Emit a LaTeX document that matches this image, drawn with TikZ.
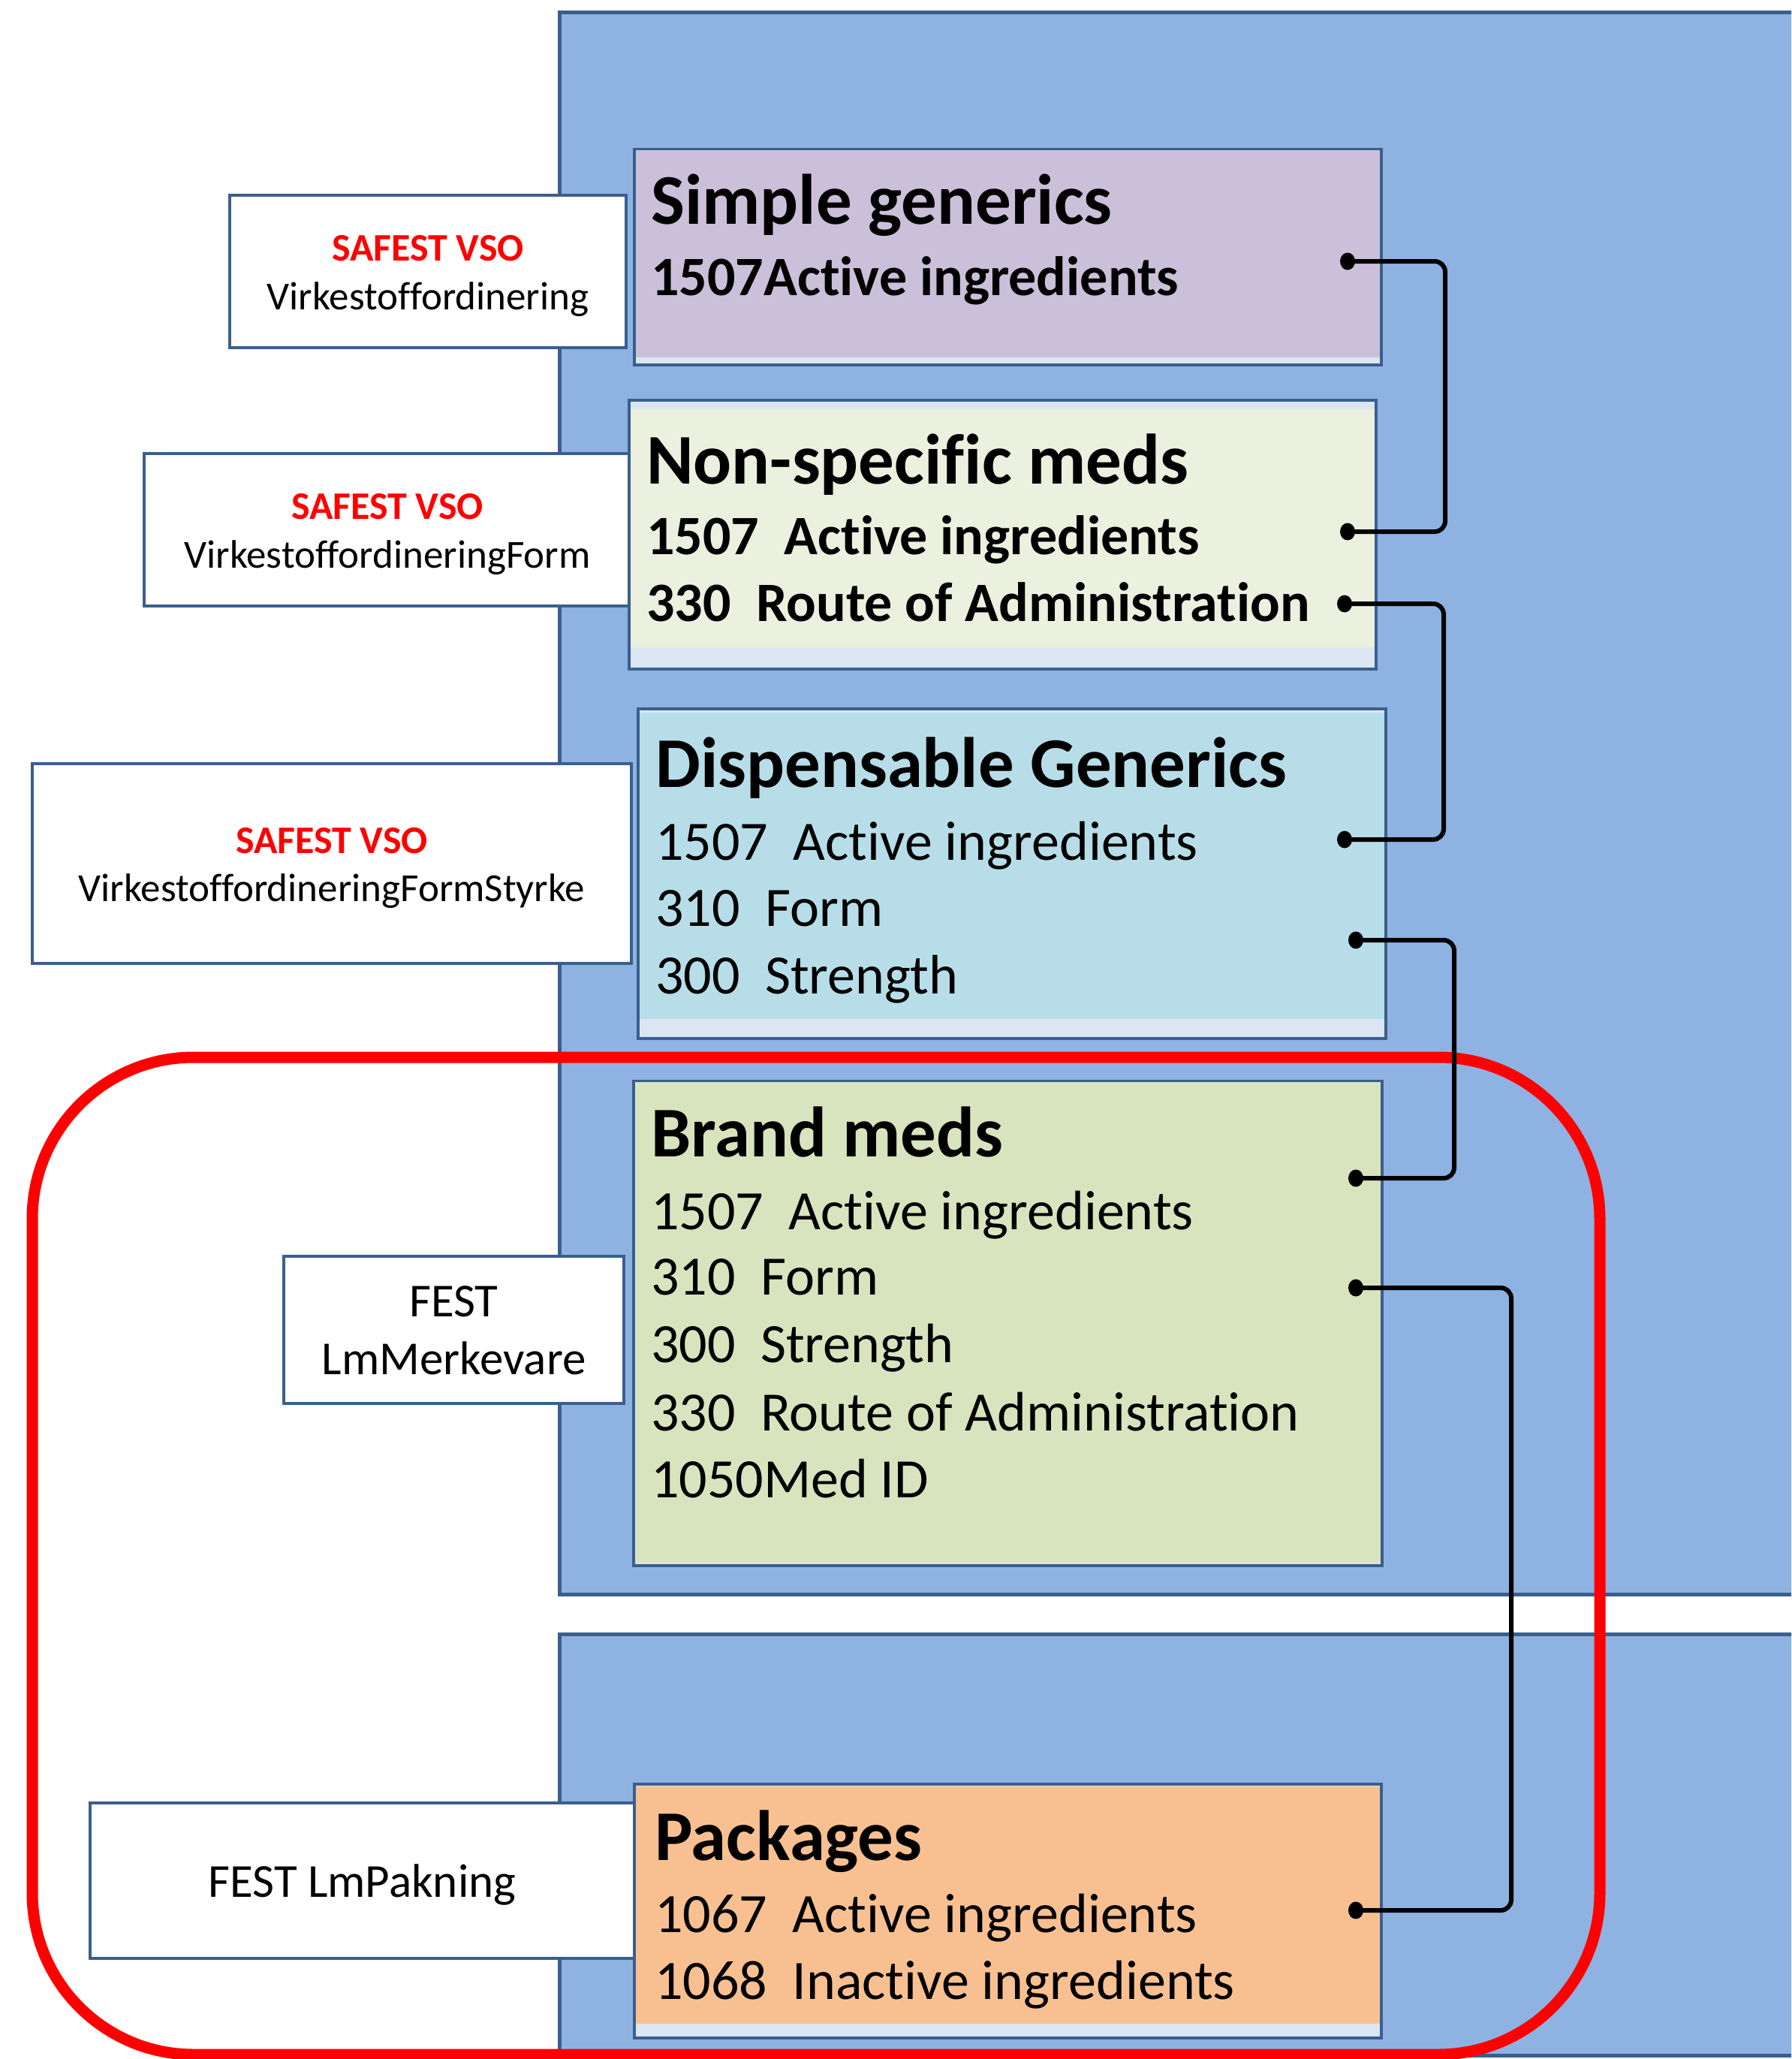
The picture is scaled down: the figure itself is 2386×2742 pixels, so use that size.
\documentclass[tikz,border=0pt]{standalone}
\usepackage{fontspec}
\usetikzlibrary{shapes.geometric}
\setmainfont{Carlito}[Ligatures=NoCommon]
\definecolor{panelblue}{HTML}{8EB3E2}
\definecolor{edgeblue}{HTML}{3A5F8D}
\definecolor{striplight}{HTML}{DCE6F2}
\definecolor{sgfill}{HTML}{CBC0D9}
\definecolor{nsfill}{HTML}{EBF0DF}
\definecolor{dgfill}{HTML}{B7DEE8}
\definecolor{bmfill}{HTML}{D8E4BE}
\definecolor{pkfill}{HTML}{F8C091}
\definecolor{groupred}{HTML}{FF0000}
\begin{document}
\begin{tikzpicture}[x=1pt,y=-1pt,
  panel/.style={fill=panelblue,draw=edgeblue,line width=5pt},
  cardframe/.style={draw=edgeblue,fill=striplight,line width=4pt,inner sep=0pt,outer sep=0pt},
  tag/.style={draw=edgeblue,fill=white,line width=4pt,inner sep=0pt,outer sep=0pt},
  ttl/.style={anchor=base west,inner sep=0pt,font=\fontsize{95}{95}\selectfont\bfseries},
  itm/.style={anchor=base west,inner sep=0pt,font=\fontsize{74}{74}\selectfont},
  itmb/.style={itm,font=\fontsize{74}{74}\selectfont\bfseries},
  tagred/.style={anchor=base,inner sep=0pt,text=groupred,font=\fontsize{52}{52}\selectfont\bfseries},
  tagtxt/.style={anchor=base,inner sep=0pt,font=\fontsize{53}{53}\selectfont},
  festtxt/.style={anchor=base,inner sep=0pt,font=\fontsize{63}{63}\selectfont},
  pin/.style={ellipse,fill=black,inner sep=0pt,minimum width=20pt,minimum height=23pt},
  conn/.style={line width=6pt,rounded corners=14pt},
  group/.style={draw=groupred,line width=15pt,rounded corners=215pt,inner sep=0pt,outer sep=0pt}
]
\useasboundingbox (0,0) rectangle (2386,2742);
\clip (0,0) rectangle (2386,2742);

% background panels
\path[panel] (745,16) rectangle (2420,2123);
\path[panel] (745,2176) rectangle (2420,2737);

% label boxes on the left
\node[tag,minimum width=528pt,minimum height=203pt] (l1) at (570,361.5) {};
\node[tag,minimum width=648pt,minimum height=203pt] (l2) at (516,705.5) {};
\node[tag,minimum width=798pt,minimum height=266pt] (l3) at (442,1150) {};
\node[tag,minimum width=453pt,minimum height=196pt] (l4) at (604.5,1771) {};
\node[tag,minimum width=725pt,minimum height=207pt] (l5) at (482.5,2504.5) {};

\node[tagred] (l1a) at (570,347) {SAFEST VSO};
\node[tagtxt] (l1b) at (570,412) {Virkestoffordinering};
\node[tagred] (l2a) at (516,691) {SAFEST VSO};
\node[tagtxt] (l2b) at (516,756) {VirkestoffordineringForm};
\node[tagred] (l3a) at (442,1136) {SAFEST VSO};
\node[tagtxt] (l3b) at (442,1200) {VirkestoffordineringFormStyrke};
\node[festtxt] (l4a) at (604.5,1753) {FEST};
\node[festtxt] (l4b) at (604.5,1830) {LmMerkevare};
\node[festtxt] (l5a) at (482.5,2526) {FEST LmPakning};

% cards
\node[cardframe,minimum width=995pt,minimum height=287pt] (sg) at (1342.5,342.5) {};
\fill[sgfill] (847,200) rectangle (1838,476);
\node[cardframe,minimum width=995pt,minimum height=358pt] (ns) at (1335.5,712) {};
\fill[nsfill] (840,545) rectangle (1831,862);
\node[cardframe,minimum width=996pt,minimum height=439pt] (dg) at (1348,1163.5) {};
\fill[dgfill] (852,949) rectangle (1844,1357);
\node[cardframe,minimum width=997pt,minimum height=645pt] (bm) at (1342.5,1762.5) {};
\fill[bmfill] (846,1441) rectangle (1839,2081);
\node[cardframe,minimum width=995pt,minimum height=338pt] (pk) at (1342.5,2545) {};
\fill[pkfill] (847,2379) rectangle (1838,2695);

% card texts
\node[ttl] (sgt) at (867,298) {Simple generics};
\node[itmb] (sg1) at (867,393) {1507Active ingredients};

\node[ttl] (nst) at (861,644) {Non-specific meds};
\node[itmb] (ns1) at (861,738) {1507\ \ Active ingredients};
\node[itmb] (ns2) at (861,827) {330\ \ Route of Administration};

\node[ttl] (dgt) at (873,1048) {Dispensable Generics};
\node[itm] (dg1) at (873,1145) {1507\ \ Active ingredients};
\node[itm] (dg2) at (873,1233) {310\ \ Form};
\node[itm] (dg3) at (873,1323) {300\ \ Strength};

\node[ttl] (bmt) at (867,1540) {Brand meds};
\node[itm] (bm1) at (867,1637) {1507\ \ Active ingredients};
\node[itm] (bm2) at (867,1724) {310\ \ Form};
\node[itm] (bm3) at (867,1814) {300\ \ Strength};
\node[itm] (bm4) at (867,1905) {330\ \ Route of Administration};
\node[itm] (bm5) at (867,1994) {1050Med ID};

\node[ttl] (pkt) at (872,2477) {Packages};
\node[itm] (pk1) at (872,2573) {1067\ \ Active ingredients};
\node[itm] (pk2) at (872,2662) {1068\ \ Inactive ingredients};

% group outline
\node[group,minimum width=2088pt,minimum height=1328pt] (grp) at (1087,2072) {};

% connector pins and routing columns
\node[pin] (sgA) at (1795,348) {};
\node[pin] (nsA) at (1795,708) {};
\node[pin] (nsB) at (1791,804) {};
\node[pin] (dgA) at (1791,1118) {};
\node[pin] (dgB) at (1806,1252) {};
\node[pin] (bmA) at (1806,1569) {};
\node[pin] (bmB) at (1806,1715) {};
\node[pin] (pkA) at (1806,2544) {};
\coordinate (v1) at (1925,0);
\coordinate (v2) at (1923,0);
\coordinate (v3) at (1937,0);
\coordinate (v4) at (2013,0);

\draw[conn] (sgA.center) -- (sgA.center -| v1) -- (nsA.center -| v1) -- (nsA.center);
\draw[conn] (nsB.center) -- (nsB.center -| v2) -- (dgA.center -| v2) -- (dgA.center);
\draw[conn] (dgB.center) -- (dgB.center -| v3) -- (bmA.center -| v3) -- (bmA.center);
\draw[conn] (bmB.center) -- (bmB.center -| v4) -- (pkA.center -| v4) -- (pkA.center);
\end{tikzpicture}
\end{document}
